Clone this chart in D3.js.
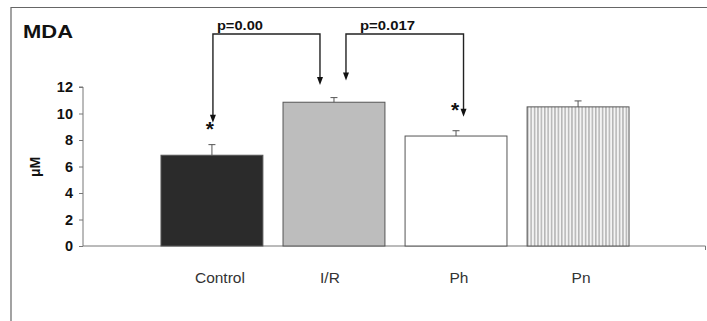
<!DOCTYPE html>
<html>
<head>
<meta charset="utf-8">
<script src="https://cdn.jsdelivr.net/npm/d3@7"></script>
<style>
  body { margin: 0; background: #fff; }
  svg { display: block; font-family: Arial, "Liberation Sans", sans-serif; }
</style>
</head>
<body>
<div id="chart"></div>
<script>
// data
const categories = ["Control", "I/R", "Ph", "Pn"];
const means = [6.85, 10.85, 8.3, 10.5];
const errors = [0.8, 0.35, 0.4, 0.45];
const yTicks = [0, 2, 4, 6, 8, 10, 12];

// significance brackets: [from, to, label, tip value at "from", tip value at "to"]
const comparisons = [
    ["Control", "I/R", "p=0.00", 9.3, 12.15],
    ["I/R", "Ph", "p=0.017", 12.5, 9.75]
];
const bracketLevel = 16;
// stars: [category, value]
const stars = [["Control", 9.15], ["Ph", 10.6]];

const width = 707, height = 321;
const fills = ["#2b2b2b", "#bdbdbd", "#ffffff", "url(#vlines)"];

const svg = d3.select("#chart")
    .append("svg")
    .attr("width", width)
    .attr("height", height);

// vertical line hatch for the last bar
const pat = svg.append("defs").append("pattern")
    .attr("id", "vlines")
    .attr("patternUnits", "userSpaceOnUse")
    .attr("width", 3.4)
    .attr("height", 10);
pat.append("rect").attr("width", 3.4).attr("height", 10).attr("fill", "#f4f4f4");
pat.append("line")
    .attr("x1", 0.8).attr("x2", 0.8).attr("y1", 0).attr("y2", 10)
    .attr("stroke", "#8a8a8a").attr("stroke-width", 0.9);

// outer frame (only top and left visible)
svg.append("path")
    .attr("d", `M11,${height} V7.5 H${width}`)
    .attr("fill", "none")
    .attr("stroke", "#666")
    .attr("stroke-width", 1.2);

const x = d3.scaleBand()
    .domain(categories)
    .range([150, 640])
    .paddingInner(0.165)
    .paddingOuter(0.09);

const y = d3.scaleLinear()
    .domain([0, 12])
    .range([246, 87]);

// y axis
const yAxis = svg.append("g")
    .attr("transform", "translate(83,0)")
    .call(d3.axisLeft(y).tickValues(yTicks).tickSize(4).tickPadding(6));
yAxis.select(".domain").attr("stroke", "#777").attr("d", `M-4,${y(12)}H0V${y(0)}`);
yAxis.selectAll(".tick line").attr("stroke", "#777");
yAxis.selectAll(".tick text")
    .attr("fill", "#111")
    .style("font-size", "14.5px")
    .style("font-weight", "bold");

// x axis line
svg.append("path")
    .attr("d", `M83,${y(0)}H705.5v4`)
    .attr("fill", "none")
    .attr("stroke", "#777")
    .attr("stroke-width", 1);

// bars
svg.selectAll(".bar")
    .data(categories)
    .enter()
    .append("rect")
    .attr("class", "bar")
    .attr("x", d => x(d))
    .attr("y", (d, i) => y(means[i]))
    .attr("width", x.bandwidth())
    .attr("height", (d, i) => y(0) - y(means[i]))
    .attr("fill", (d, i) => fills[i])
    .attr("stroke", "#555")
    .attr("stroke-width", 1);

// error bars (upper only)
const err = svg.selectAll(".err")
    .data(categories)
    .enter()
    .append("g")
    .attr("class", "err")
    .attr("stroke", "#555")
    .attr("stroke-width", 1);
err.append("line")
    .attr("x1", d => x(d) + x.bandwidth() / 2)
    .attr("x2", d => x(d) + x.bandwidth() / 2)
    .attr("y1", (d, i) => y(means[i]))
    .attr("y2", (d, i) => y(means[i] + errors[i]));
err.append("line")
    .attr("x1", d => x(d) + x.bandwidth() / 2 - 3.5)
    .attr("x2", d => x(d) + x.bandwidth() / 2 + 3.5)
    .attr("y1", (d, i) => y(means[i] + errors[i]))
    .attr("y2", (d, i) => y(means[i] + errors[i]));

// category labels
svg.selectAll(".cat")
    .data(categories)
    .enter()
    .append("text")
    .attr("class", "cat")
    .attr("x", d => x(d) + x.bandwidth() / 2 + (d === "I/R" ? -4 : d === "Control" ? 8 : 3))
    .attr("y", 283)
    .attr("text-anchor", "middle")
    .attr("fill", "#333")
    .style("font-size", "15.5px")
    .text(d => d);

// y label
svg.append("text")
    .attr("transform", `translate(40,${167}) rotate(-90)`)
    .attr("text-anchor", "middle")
    .style("font-size", "14px")
    .style("font-weight", "bold")
    .attr("fill", "#111")
    .text("μM");

// title
svg.append("text")
    .attr("x", 23)
    .attr("y", 38)
    .attr("textLength", 50)
    .attr("lengthAdjust", "spacingAndGlyphs")
    .style("font-size", "18.5px")
    .style("font-weight", "bold")
    .attr("fill", "#111")
    .text("MDA");

// brackets with arrows
const arrowOffset = { "Control": 1, "I/R": [-14, 12], "Ph": 7.5 };
const cx = d => x(d) + x.bandwidth() / 2;
const arrow = (g, xp, yTip) => {
    g.append("path")
        .attr("d", `M${xp - 3},${yTip - 8}L${xp + 3},${yTip - 8}L${xp},${yTip}Z`)
        .attr("fill", "#111");
};
comparisons.forEach(([a, b, label, ta, tb], k) => {
    const g = svg.append("g");
    const offA = Array.isArray(arrowOffset[a]) ? arrowOffset[a][1] : arrowOffset[a];
    const offB = Array.isArray(arrowOffset[b]) ? arrowOffset[b][0] : arrowOffset[b];
    const xa = cx(a) + offA, xb = cx(b) + offB;
    g.append("path")
        .attr("d", `M${xa},${y(ta) - 7}V${y(bracketLevel)}H${xb}V${y(tb) - 7}`)
        .attr("fill", "none")
        .attr("stroke", "#222")
        .attr("stroke-width", 1.4);
    arrow(g, xa, y(ta));
    arrow(g, xb, y(tb));
    g.append("text")
        .attr("x", xa + (k === 0 ? 4 : 14))
        .attr("y", y(bracketLevel) - 4)
        .attr("textLength", k === 0 ? 46 : 55)
        .attr("lengthAdjust", "spacingAndGlyphs")
        .style("font-size", "13.5px")
        .style("font-weight", "bold")
        .attr("fill", "#111")
        .text(label);
});

// stars
svg.selectAll(".star")
    .data(stars)
    .enter()
    .append("text")
    .attr("class", "star")
    .attr("x", d => cx(d[0]) + (d[0] === "Ph" ? -1 : -2))
    .attr("y", d => y(d[1]) + 11)
    .attr("text-anchor", "middle")
    .style("font-size", "21px")
    .style("font-weight", "bold")
    .attr("fill", "#111")
    .text("*");
</script>
</body>
</html>
